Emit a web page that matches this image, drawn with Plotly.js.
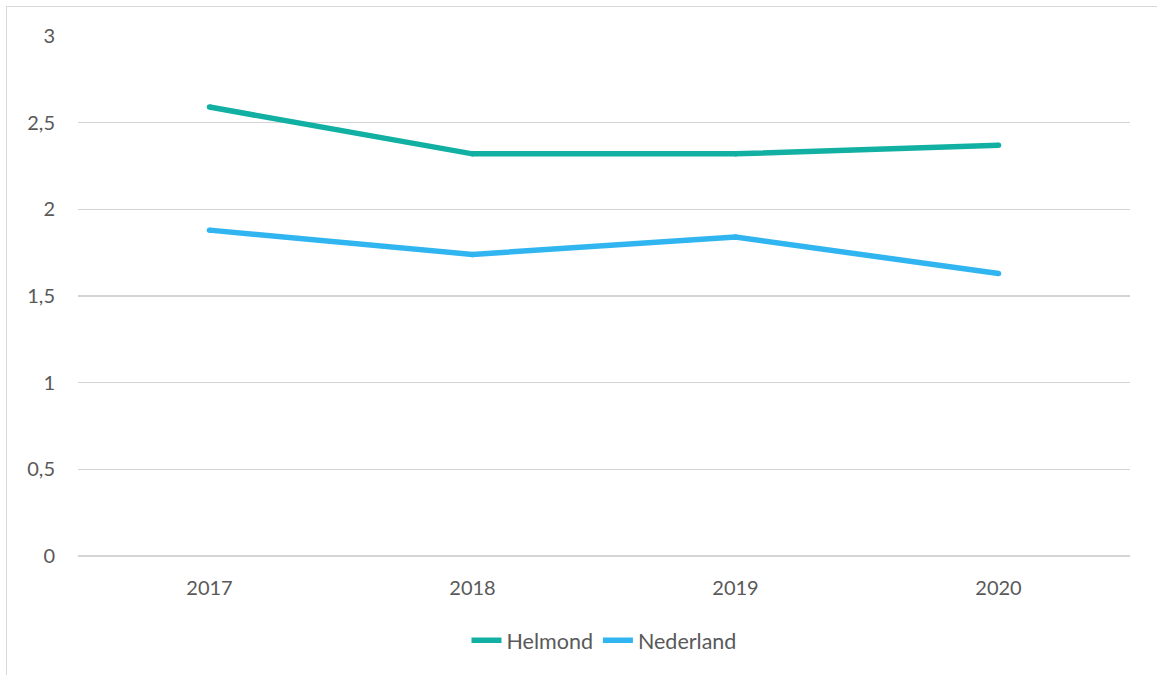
<!DOCTYPE html>
<html>
<head>
<meta charset="utf-8">
<script src="https://cdn.plot.ly/plotly-3.0.1.min.js"></script>
<style>
html,body{margin:0;padding:0;background:#fff;}
#wrap{position:relative;width:1157px;height:675px;}
#chart{position:absolute;left:0;top:0;width:1157px;height:675px;}
#frame{position:absolute;left:6px;top:6px;width:1160px;height:680px;border-left:1px solid #d9d9d9;border-top:1px solid #d9d9d9;pointer-events:none;}
</style>
</head>
<body>
<div id="wrap"><div id="chart"></div><div id="frame"></div></div>
<script>
const years = ['2017', '2018', '2019', '2020'];
const helmond = [2.59, 2.32, 2.32, 2.37];
const nederland = [1.88, 1.74, 1.84, 1.63];
const yTickVals = [0, 0.5, 1, 1.5, 2, 2.5, 3];
const yTickText = ['0', '0,5', '1', '1,5', '2', '2,5', '3'];
const seriesNames = ['Helmond', 'Nederland'];
const colors = ['#12B0A2', '#30B5F0'];

const font = {family: 'Lato, "Open Sans", sans-serif', size: 20, color: '#595959'};
const legendFont = {family: 'Lato, "Open Sans", sans-serif', size: 21.5, color: '#595959'};

const traces = [];
[helmond, nederland].forEach((vals, i) => {
  traces.push({
    x: years, y: vals, type: 'scatter', mode: 'lines', name: seriesNames[i],
    line: {color: colors[i], width: 5.5}, hoverinfo: 'x+y'
  });
  traces.push({
    x: years, y: vals, type: 'scatter', mode: 'markers', showlegend: false,
    marker: {color: colors[i], size: 5.5}, hoverinfo: 'skip'
  });
});

const layout = {
  width: 1157, height: 675,
  margin: {l: 78, r: 27, t: 36, b: 119},
  paper_bgcolor: 'rgba(0,0,0,0)', plot_bgcolor: '#fff',
  font: font,
  showlegend: true,
  legend: {orientation: 'h', x: 0.5, xanchor: 'center', y: -0.162, yanchor: 'middle',
           font: legendFont, traceorder: 'normal', itemwidth: 30},
  xaxis: {type: 'category', range: [-0.5, 3.5], showgrid: false, zeroline: false,
          showline: false, ticks: '', tickfont: font, ticklabelstandoff: 18, fixedrange: true},
  yaxis: {range: [0, 3], tickvals: yTickVals, ticktext: yTickText, showgrid: true,
          gridcolor: '#d4d4d4', gridwidth: 1.3, zeroline: true, zerolinecolor: '#d4d4d4',
          zerolinewidth: 1.3, showline: false, ticks: '', tickfont: font, ticklabelstandoff: 22,
          fixedrange: true}
};

Plotly.newPlot('chart', traces, layout, {displayModeBar: false, staticPlot: true});
</script>
</body>
</html>
